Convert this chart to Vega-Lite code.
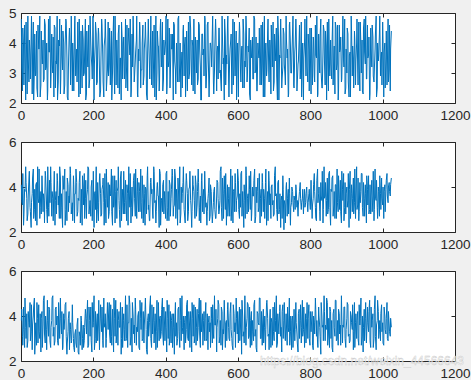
{
"$schema":"https://vega.github.io/schema/vega-lite/v6.json",
"background":"#f0f0f0",
"padding":{"left":7,"top":5,"right":0,"bottom":0},
"spacing":12,
"config":{
 "view":{"fill":"white","stroke":"#262626","strokeWidth":1},
 "axis":{"grid":false,"domain":false,"title":null,"tickColor":"#262626","tickSize":-4,"tickWidth":1,"labelFont":"Liberation Sans","labelFontSize":13.5,"labelColor":"#262626","labelFlush":false,"labelOverlap":false,"labelBound":false,"format":"d"},
 "axisX":{"labelPadding":9},
 "axisY":{"labelPadding":9}
},
"data":{"values":[
{"x":1,"a":4.8,"b":4.1,"c":3.8},{"x":4,"a":2.4,"b":3.2,"c":3.1},{"x":7,"a":3.9,"b":2.3,"c":4.4},{"x":10,"a":4.6,"b":3.9,"c":2.6},{"x":13,"a":2.1,"b":4.9,"c":3.5},{"x":16,"a":3.3,"b":3.5,"c":4.1},{"x":19,"a":4.9,"b":2.8,"c":2.9},{"x":22,"a":2.7,"b":4.4,"c":3.7},{"x":25,"a":3.6,"b":3.1,"c":4.6},{"x":28,"a":4.2,"b":2.2,"c":3.3},
{"x":31,"a":2.3,"b":3.7,"c":2.5},{"x":34,"a":4.7,"b":4.8,"c":4.0},{"x":37,"a":3.1,"b":3.0,"c":4.8},{"x":40,"a":2.9,"b":2.5,"c":3.2},{"x":43,"a":4.4,"b":4.2,"c":2.7},{"x":46,"a":2.2,"b":4.9,"c":3.9},{"x":49,"a":3.8,"b":3.3,"c":4.5},{"x":52,"a":4.9,"b":2.6,"c":3.0},{"x":55,"a":2.6,"b":3.8,"c":2.4},{"x":58,"a":3.5,"b":4.5,"c":4.2},
{"x":61,"a":4.1,"b":2.9,"c":3.6},{"x":64,"a":2.8,"b":3.4,"c":4.9},{"x":67,"a":4.6,"b":4.7,"c":2.8},{"x":70,"a":3.2,"b":3.6,"c":3.4},{"x":73,"a":2.1,"b":2.4,"c":4.7},{"x":76,"a":4.8,"b":3.1,"c":3.1},{"x":79,"a":3.7,"b":4.3,"c":4.3},{"x":82,"a":2.5,"b":4.9,"c":2.6},{"x":85,"a":4.3,"b":2.7,"c":3.8},{"x":88,"a":3.0,"b":3.5,"c":4.9},
{"x":91,"a":2.2,"b":4.0,"c":3.5},{"x":94,"a":4.5,"b":2.3,"c":2.9},{"x":97,"a":3.4,"b":3.8,"c":4.4},{"x":100,"a":4.9,"b":4.6,"c":4.0},{"x":103,"a":2.7,"b":3.2,"c":2.7},{"x":106,"a":3.9,"b":2.6,"c":3.6},{"x":109,"a":2.3,"b":4.4,"c":4.8},{"x":112,"a":4.6,"b":3.7,"c":3.2},{"x":115,"a":3.1,"b":2.2,"c":2.5},{"x":118,"a":4.0,"b":3.9,"c":4.1},
{"x":121,"a":2.6,"b":4.8,"c":3.9},{"x":124,"a":4.8,"b":3.0,"c":4.6},{"x":127,"a":3.5,"b":2.5,"c":2.3},{"x":130,"a":2.1,"b":4.1,"c":3.3},{"x":133,"a":4.2,"b":3.6,"c":4.2},{"x":136,"a":3.7,"b":4.9,"c":3.7},{"x":139,"a":4.9,"b":2.8,"c":2.8},{"x":142,"a":2.4,"b":3.3,"c":4.5},{"x":145,"a":3.3,"b":4.5,"c":3.0},{"x":148,"a":4.5,"b":2.4,"c":2.4},
{"x":151,"a":2.9,"b":3.7,"c":3.4},{"x":154,"a":3.8,"b":4.2,"c":2.6},{"x":157,"a":4.7,"b":2.9,"c":3.9},{"x":160,"a":2.2,"b":3.4,"c":2.3},{"x":163,"a":3.6,"b":4.7,"c":3.1},{"x":166,"a":4.4,"b":3.1,"c":4.0},{"x":169,"a":2.5,"b":2.3,"c":2.5},{"x":172,"a":4.1,"b":4.0,"c":3.6},{"x":175,"a":3.0,"b":4.6,"c":2.9},{"x":178,"a":4.8,"b":3.5,"c":4.3},
{"x":181,"a":2.3,"b":2.6,"c":3.2},{"x":184,"a":3.4,"b":3.9,"c":4.7},{"x":187,"a":4.6,"b":4.8,"c":2.7},{"x":190,"a":2.8,"b":3.2,"c":3.8},{"x":193,"a":4.0,"b":2.7,"c":4.4},{"x":196,"a":3.2,"b":4.3,"c":2.4},{"x":199,"a":4.9,"b":3.6,"c":3.5},{"x":202,"a":2.1,"b":2.2,"c":4.9},{"x":205,"a":3.9,"b":3.8,"c":3.0},{"x":208,"a":4.3,"b":4.9,"c":2.8},
{"x":211,"a":2.7,"b":3.0,"c":4.1},{"x":214,"a":4.5,"b":2.5,"c":3.6},{"x":217,"a":3.1,"b":4.4,"c":2.5},{"x":220,"a":2.4,"b":3.7,"c":4.5},{"x":223,"a":4.8,"b":2.8,"c":3.3},{"x":226,"a":3.6,"b":4.1,"c":2.9},{"x":229,"a":2.2,"b":3.3,"c":4.8},{"x":232,"a":4.2,"b":4.6,"c":3.7},{"x":235,"a":3.8,"b":2.4,"c":2.6},{"x":238,"a":2.9,"b":3.5,"c":4.0},
{"x":241,"a":4.7,"b":4.2,"c":3.4},{"x":244,"a":3.3,"b":2.9,"c":4.6},{"x":247,"a":2.6,"b":3.6,"c":2.8},{"x":250,"a":4.4,"b":4.8,"c":3.1},{"x":253,"a":3.0,"b":2.3,"c":4.3},{"x":256,"a":4.9,"b":3.1,"c":2.4},{"x":259,"a":2.3,"b":4.5,"c":3.9},{"x":262,"a":3.7,"b":3.8,"c":4.7},{"x":265,"a":4.1,"b":2.6,"c":3.2},{"x":268,"a":2.5,"b":4.0,"c":2.7},
{"x":271,"a":4.6,"b":3.4,"c":4.2},{"x":274,"a":3.5,"b":2.2,"c":3.5},{"x":277,"a":2.1,"b":4.7,"c":2.3},{"x":280,"a":4.0,"b":3.9,"c":4.4},{"x":283,"a":3.9,"b":2.8,"c":3.8},{"x":286,"a":2.8,"b":3.3,"c":2.9},{"x":289,"a":4.8,"b":4.3,"c":4.9},{"x":292,"a":3.2,"b":2.5,"c":3.0},{"x":295,"a":2.4,"b":3.7,"c":2.6},{"x":298,"a":4.5,"b":4.9,"c":3.7},
{"x":301,"a":3.6,"b":3.1,"c":4.5},{"x":304,"a":2.2,"b":2.4,"c":3.1},{"x":307,"a":4.3,"b":4.0,"c":2.4},{"x":310,"a":4.9,"b":3.6,"c":4.0},{"x":313,"a":2.7,"b":4.6,"c":3.6},{"x":316,"a":3.4,"b":2.7,"c":4.8},{"x":319,"a":4.1,"b":3.2,"c":2.7},{"x":322,"a":2.3,"b":4.4,"c":3.3},{"x":325,"a":3.8,"b":2.9,"c":4.2},{"x":328,"a":4.7,"b":3.8,"c":2.5},
{"x":331,"a":2.5,"b":4.8,"c":3.9},{"x":334,"a":3.1,"b":2.6,"c":4.6},{"x":337,"a":4.6,"b":3.5,"c":3.0},{"x":340,"a":2.9,"b":4.1,"c":2.8},{"x":343,"a":4.2,"b":2.3,"c":4.3},{"x":346,"a":3.7,"b":3.9,"c":3.4},{"x":349,"a":2.1,"b":4.5,"c":2.3},{"x":352,"a":4.8,"b":3.0,"c":4.1},{"x":355,"a":3.3,"b":2.5,"c":3.7},{"x":358,"a":4.0,"b":4.2,"c":4.9},
{"x":361,"a":2.6,"b":3.7,"c":2.6},{"x":364,"a":4.4,"b":2.8,"c":3.2},{"x":367,"a":3.5,"b":4.9,"c":4.4},{"x":370,"a":2.2,"b":3.3,"c":3.8},{"x":373,"a":4.9,"b":2.4,"c":2.5},{"x":376,"a":3.0,"b":4.0,"c":4.7},{"x":379,"a":3.9,"b":3.6,"c":3.5},{"x":382,"a":2.4,"b":2.2,"c":2.9},{"x":385,"a":4.5,"b":4.6,"c":4.0},{"x":388,"a":3.2,"b":3.4,"c":3.3},
{"x":391,"a":4.7,"b":2.9,"c":4.8},{"x":394,"a":2.8,"b":4.3,"c":2.7},{"x":397,"a":3.6,"b":3.8,"c":3.6},{"x":400,"a":4.1,"b":2.6,"c":4.2},{"x":403,"a":2.3,"b":4.7,"c":2.4},{"x":406,"a":4.8,"b":3.1,"c":3.9},{"x":409,"a":3.4,"b":2.5,"c":4.5},{"x":412,"a":2.5,"b":4.1,"c":3.1},{"x":415,"a":4.3,"b":3.5,"c":2.8},{"x":418,"a":3.8,"b":4.8,"c":4.1},
{"x":421,"a":2.1,"b":2.7,"c":3.5},{"x":424,"a":4.6,"b":3.2,"c":2.3},{"x":427,"a":3.1,"b":4.4,"c":4.6},{"x":430,"a":4.0,"b":3.9,"c":3.7},{"x":433,"a":2.7,"b":2.3,"c":3.0},{"x":436,"a":4.9,"b":3.6,"c":4.4},{"x":439,"a":3.3,"b":4.9,"c":2.6},{"x":442,"a":2.2,"b":2.8,"c":3.8},{"x":445,"a":3.7,"b":3.3,"c":4.9},{"x":448,"a":4.4,"b":4.2,"c":3.2},
{"x":451,"a":2.9,"b":3.0,"c":2.5},{"x":454,"a":4.2,"b":2.4,"c":4.0},{"x":457,"a":3.5,"b":4.6,"c":3.4},{"x":460,"a":2.4,"b":3.7,"c":4.7},{"x":463,"a":4.7,"b":2.9,"c":2.9},{"x":466,"a":3.0,"b":4.0,"c":3.6},{"x":469,"a":4.5,"b":3.4,"c":4.2},{"x":472,"a":2.6,"b":2.2,"c":2.4},{"x":475,"a":3.9,"b":4.5,"c":3.9},{"x":478,"a":4.8,"b":3.8,"c":4.5},
{"x":481,"a":2.3,"b":2.6,"c":3.1},{"x":484,"a":3.6,"b":4.1,"c":2.7},{"x":487,"a":4.1,"b":3.2,"c":4.3},{"x":490,"a":2.8,"b":4.8,"c":3.5},{"x":493,"a":4.6,"b":2.5,"c":4.8},{"x":496,"a":3.2,"b":3.6,"c":2.6},{"x":499,"a":2.1,"b":4.3,"c":3.3},{"x":502,"a":4.3,"b":2.9,"c":4.1},{"x":505,"a":3.8,"b":3.9,"c":3.8},{"x":508,"a":4.9,"b":4.7,"c":2.9},
{"x":511,"a":2.5,"b":3.1,"c":4.6},{"x":514,"a":3.4,"b":2.3,"c":3.0},{"x":517,"a":4.7,"b":3.5,"c":2.5},{"x":520,"a":2.2,"b":4.4,"c":4.0},{"x":523,"a":4.0,"b":2.7,"c":3.7},{"x":526,"a":3.7,"b":3.8,"c":4.4},{"x":529,"a":4.4,"b":2.4,"c":2.8},{"x":532,"a":2.7,"b":3.3,"c":3.2},{"x":535,"a":3.1,"b":4.0,"c":4.9},{"x":538,"a":4.8,"b":2.6,"c":3.6},
{"x":541,"a":2.4,"b":3.6,"c":2.4},{"x":544,"a":3.9,"b":4.2,"c":3.9},{"x":547,"a":4.5,"b":2.8,"c":4.5},{"x":550,"a":3.0,"b":3.4,"c":3.1},{"x":553,"a":2.6,"b":4.9,"c":2.7},{"x":556,"a":4.9,"b":2.5,"c":4.2},{"x":559,"a":3.3,"b":3.7,"c":3.4},{"x":562,"a":2.1,"b":4.5,"c":4.7},{"x":565,"a":4.2,"b":3.0,"c":2.6},{"x":568,"a":3.6,"b":2.3,"c":3.8},
{"x":571,"a":4.6,"b":4.1,"c":4.3},{"x":574,"a":2.8,"b":3.5,"c":3.5},{"x":577,"a":3.5,"b":2.7,"c":2.9},{"x":580,"a":4.1,"b":4.8,"c":4.6},{"x":583,"a":2.3,"b":3.2,"c":3.0},{"x":586,"a":4.8,"b":2.4,"c":2.5},{"x":589,"a":3.2,"b":3.9,"c":4.1},{"x":592,"a":2.9,"b":4.6,"c":3.7},{"x":595,"a":4.4,"b":2.9,"c":4.8},{"x":598,"a":3.7,"b":3.6,"c":3.2},
{"x":601,"a":2.2,"b":4.3,"c":2.8},{"x":604,"a":4.7,"b":2.6,"c":4.4},{"x":607,"a":3.0,"b":3.1,"c":3.6},{"x":610,"a":3.8,"b":4.7,"c":2.3},{"x":613,"a":2.5,"b":3.8,"c":4.0},{"x":616,"a":4.3,"b":2.2,"c":3.3},{"x":619,"a":3.4,"b":3.4,"c":4.9},{"x":622,"a":4.9,"b":4.9,"c":2.7},{"x":625,"a":2.7,"b":2.8,"c":3.9},{"x":628,"a":3.9,"b":3.7,"c":4.5},
{"x":631,"a":4.5,"b":4.5,"c":3.1},{"x":634,"a":2.1,"b":3.0,"c":2.6},{"x":637,"a":3.6,"b":2.5,"c":4.2},{"x":640,"a":4.2,"b":4.0,"c":3.8},{"x":643,"a":2.8,"b":3.6,"c":2.9},{"x":646,"a":4.8,"b":4.8,"c":4.7},{"x":649,"a":3.1,"b":2.7,"c":3.4},{"x":652,"a":2.4,"b":3.3,"c":2.4},{"x":655,"a":4.0,"b":4.4,"c":4.1},{"x":658,"a":3.5,"b":3.1,"c":3.6},
{"x":661,"a":2.6,"b":2.4,"c":4.8},{"x":664,"a":4.6,"b":3.9,"c":3.0},{"x":667,"a":3.3,"b":4.6,"c":2.7},{"x":670,"a":2.2,"b":2.9,"c":4.3},{"x":673,"a":4.9,"b":3.5,"c":3.5},{"x":676,"a":3.7,"b":4.2,"c":2.5},{"x":679,"a":2.9,"b":2.3,"c":4.6},{"x":682,"a":4.4,"b":3.8,"c":3.9},{"x":685,"a":3.0,"b":4.7,"c":3.2},{"x":688,"a":4.1,"b":3.2,"c":4.0},
{"x":691,"a":2.3,"b":2.6,"c":2.6},{"x":694,"a":3.8,"b":4.1,"c":3.7},{"x":697,"a":4.7,"b":3.4,"c":4.4},{"x":700,"a":2.7,"b":2.8,"c":2.9},{"x":703,"a":3.4,"b":4.9,"c":3.3},{"x":706,"a":4.5,"b":3.7,"c":4.9},{"x":709,"a":2.1,"b":2.5,"c":2.8},{"x":712,"a":4.2,"b":4.3,"c":3.6},{"x":715,"a":3.6,"b":3.0,"c":4.2},{"x":718,"a":4.8,"b":2.2,"c":3.1},
{"x":721,"a":2.5,"b":3.6,"c":2.4},{"x":724,"a":3.2,"b":4.5,"c":4.5},{"x":727,"a":4.3,"b":2.1,"c":3.8},{"x":730,"a":2.9,"b":3.2,"c":3.0},{"x":733,"a":4.9,"b":4.0,"c":4.1},{"x":736,"a":3.5,"b":2.7,"c":2.7},{"x":739,"a":2.2,"b":3.9,"c":3.5},{"x":742,"a":4.6,"b":4.4,"c":4.8},{"x":745,"a":3.9,"b":2.3,"c":3.3},{"x":748,"a":3.0,"b":3.3,"c":2.5},
{"x":751,"a":4.4,"b":3.8,"c":4.0},{"x":754,"a":2.6,"b":2.9,"c":3.6},{"x":757,"a":3.7,"b":3.4,"c":2.9},{"x":760,"a":4.8,"b":4.1,"c":4.6},{"x":763,"a":2.4,"b":3.1,"c":3.2},{"x":766,"a":3.3,"b":2.7,"c":2.4},{"x":769,"a":4.1,"b":3.6,"c":4.3},{"x":772,"a":2.8,"b":4.2,"c":3.8},{"x":775,"a":4.7,"b":3.0,"c":2.8},{"x":778,"a":3.6,"b":3.5,"c":4.7},
{"x":781,"a":2.1,"b":2.8,"c":3.4},{"x":784,"a":4.0,"b":3.9,"c":2.6},{"x":787,"a":3.4,"b":3.3,"c":4.1},{"x":790,"a":4.9,"b":4.0,"c":3.9},{"x":793,"a":2.7,"b":2.9,"c":3.0},{"x":796,"a":3.8,"b":3.7,"c":4.5},{"x":799,"a":4.5,"b":3.2,"c":2.7},{"x":802,"a":2.3,"b":4.3,"c":3.3},{"x":805,"a":3.1,"b":2.6,"c":4.2},{"x":808,"a":4.2,"b":3.5,"c":2.5},
{"x":811,"a":2.9,"b":4.6,"c":3.7},{"x":814,"a":4.6,"b":3.1,"c":4.8},{"x":817,"a":3.5,"b":2.5,"c":3.1},{"x":820,"a":2.2,"b":4.8,"c":2.8},{"x":823,"a":4.3,"b":3.7,"c":4.4},{"x":826,"a":3.0,"b":2.9,"c":3.5},{"x":829,"a":4.8,"b":4.2,"c":2.3},{"x":832,"a":2.5,"b":3.4,"c":4.0},{"x":835,"a":3.7,"b":2.4,"c":3.6},{"x":838,"a":4.4,"b":4.9,"c":4.9},
{"x":841,"a":2.6,"b":3.6,"c":2.9},{"x":844,"a":3.9,"b":2.7,"c":3.4},{"x":847,"a":4.7,"b":4.4,"c":4.6},{"x":850,"a":2.4,"b":3.0,"c":3.2},{"x":853,"a":3.2,"b":4.7,"c":2.6},{"x":856,"a":4.1,"b":2.3,"c":4.2},{"x":859,"a":2.8,"b":3.8,"c":3.8},{"x":862,"a":4.9,"b":4.5,"c":2.4},{"x":865,"a":3.6,"b":3.2,"c":4.3},{"x":868,"a":2.3,"b":2.6,"c":3.1},
{"x":871,"a":4.5,"b":4.1,"c":4.7},{"x":874,"a":3.3,"b":4.8,"c":3.0},{"x":877,"a":2.1,"b":2.9,"c":2.7},{"x":880,"a":4.6,"b":3.5,"c":4.1},{"x":883,"a":3.8,"b":4.3,"c":3.6},{"x":886,"a":2.7,"b":2.4,"c":4.9},{"x":889,"a":4.2,"b":3.9,"c":2.8},{"x":892,"a":3.4,"b":4.6,"c":3.5},{"x":895,"a":4.8,"b":3.1,"c":4.4},{"x":898,"a":2.5,"b":2.8,"c":2.6},
{"x":901,"a":3.0,"b":4.0,"c":3.9},{"x":904,"a":4.3,"b":3.4,"c":4.5},{"x":907,"a":2.2,"b":2.2,"c":3.2},{"x":910,"a":3.7,"b":4.7,"c":2.9},{"x":913,"a":4.9,"b":3.7,"c":4.0},{"x":916,"a":2.9,"b":2.9,"c":3.4},{"x":919,"a":3.5,"b":4.4,"c":2.5},{"x":922,"a":4.4,"b":3.3,"c":4.6},{"x":925,"a":2.6,"b":2.6,"c":3.7},{"x":928,"a":4.0,"b":4.9,"c":3.0},
{"x":931,"a":3.1,"b":3.2,"c":4.2},{"x":934,"a":4.7,"b":2.5,"c":2.7},{"x":937,"a":2.4,"b":4.2,"c":3.6},{"x":940,"a":3.9,"b":3.8,"c":4.8},{"x":943,"a":4.1,"b":4.6,"c":3.1},{"x":946,"a":2.3,"b":2.7,"c":2.4},{"x":949,"a":4.8,"b":3.5,"c":4.3},{"x":952,"a":3.3,"b":4.1,"c":3.9},{"x":955,"a":2.8,"b":2.4,"c":2.8},{"x":958,"a":4.6,"b":3.9,"c":4.4},
{"x":961,"a":3.6,"b":4.5,"c":3.3},{"x":964,"a":2.1,"b":3.0,"c":4.7},{"x":967,"a":4.5,"b":2.8,"c":2.6},{"x":970,"a":3.2,"b":4.3,"c":3.5},{"x":973,"a":4.2,"b":3.6,"c":4.1},{"x":976,"a":2.7,"b":2.5,"c":3.0},{"x":979,"a":3.8,"b":4.8,"c":4.9},{"x":982,"a":4.9,"b":3.4,"c":2.5},{"x":985,"a":2.5,"b":3.1,"c":3.8},{"x":988,"a":3.4,"b":4.0,"c":4.2},
{"x":991,"a":4.3,"b":2.7,"c":3.4},{"x":994,"a":2.9,"b":3.7,"c":2.9},{"x":997,"a":3.7,"b":4.4,"c":4.5},{"x":1000,"a":4.7,"b":3.2,"c":3.7},{"x":1003,"a":2.2,"b":2.6,"c":2.7},{"x":1006,"a":4.0,"b":4.1,"c":4.0},{"x":1009,"a":3.5,"b":3.9,"c":3.2},{"x":1012,"a":2.6,"b":4.6,"c":4.6},{"x":1015,"a":4.8,"b":3.3,"c":2.9},{"x":1018,"a":3.1,"b":4.2,"c":3.6},
{"x":1021,"a":2.4,"b":3.6,"c":3.1},{"x":1024,"a":4.4,"b":4.4,"c":3.5},
{"x":2,"a":3.2,"b":3.4,"c":4.3},{"x":5,"a":4.5,"b":4.6,"c":2.7},{"x":8,"a":2.6,"b":2.7,"c":3.4},{"x":11,"a":3.9,"b":3.8,"c":4.8},{"x":14,"a":4.7,"b":4.2,"c":3.0},{"x":17,"a":2.3,"b":2.5,"c":2.6},{"x":20,"a":3.5,"b":3.6,"c":4.2},{"x":23,"a":4.1,"b":4.7,"c":3.5},{"x":26,"a":2.8,"b":2.9,"c":2.9},{"x":29,"a":4.9,"b":3.3,"c":4.5},
{"x":32,"a":3.6,"b":4.4,"c":3.6},{"x":35,"a":2.1,"b":2.6,"c":4.4},{"x":38,"a":4.3,"b":3.9,"c":2.3},{"x":41,"a":3.0,"b":4.1,"c":3.7},{"x":44,"a":2.5,"b":2.3,"c":4.6},{"x":47,"a":4.6,"b":3.5,"c":2.8},{"x":50,"a":3.8,"b":4.8,"c":3.3},{"x":53,"a":2.2,"b":3.1,"c":4.1},{"x":56,"a":4.4,"b":2.8,"c":3.9},{"x":59,"a":3.3,"b":4.0,"c":2.6},
{"x":62,"a":2.7,"b":3.7,"c":4.7},{"x":65,"a":4.8,"b":2.4,"c":3.2},{"x":68,"a":3.1,"b":4.5,"c":4.0},{"x":71,"a":4.0,"b":3.0,"c":2.5},{"x":74,"a":2.4,"b":4.9,"c":3.8},{"x":77,"a":3.7,"b":2.7,"c":4.4},{"x":80,"a":4.9,"b":3.3,"c":2.9},{"x":83,"a":2.9,"b":4.2,"c":3.5},{"x":86,"a":3.4,"b":3.8,"c":4.8},{"x":89,"a":4.2,"b":2.5,"c":3.1},
{"x":92,"a":4.6,"b":4.7,"c":2.7},{"x":95,"a":2.5,"b":3.4,"c":4.3},{"x":98,"a":3.3,"b":2.8,"c":3.6},{"x":101,"a":2.1,"b":4.3,"c":2.9},{"x":104,"a":4.1,"b":3.6,"c":4.6},{"x":107,"a":4.8,"b":4.9,"c":3.0},{"x":110,"a":2.8,"b":2.6,"c":3.9},{"x":113,"a":3.6,"b":3.1,"c":4.2},{"x":116,"a":4.4,"b":4.5,"c":2.6},{"x":119,"a":2.3,"b":3.9,"c":3.4},
{"x":122,"a":3.9,"b":2.3,"c":4.5},{"x":125,"a":4.7,"b":3.8,"c":3.1},{"x":128,"a":2.2,"b":4.4,"c":2.8},{"x":131,"a":3.1,"b":2.9,"c":3.9},{"x":134,"a":4.5,"b":3.3,"c":2.5},{"x":137,"a":2.6,"b":4.6,"c":3.4},{"x":140,"a":3.8,"b":3.0,"c":2.9},{"x":143,"a":4.0,"b":2.5,"c":3.7},{"x":146,"a":2.4,"b":4.1,"c":2.6},{"x":149,"a":4.9,"b":3.7,"c":3.2},
{"x":152,"a":3.0,"b":4.8,"c":2.8},{"x":155,"a":2.7,"b":2.7,"c":3.6},{"x":158,"a":4.2,"b":3.5,"c":2.4},{"x":161,"a":4.8,"b":4.2,"c":3.3},{"x":164,"a":2.3,"b":2.4,"c":2.7},{"x":167,"a":3.5,"b":3.9,"c":3.8},{"x":170,"a":4.6,"b":4.5,"c":3.0},{"x":173,"a":2.9,"b":3.2,"c":2.6},{"x":176,"a":3.7,"b":2.6,"c":3.5},{"x":179,"a":2.1,"b":4.3,"c":4.1},
{"x":182,"a":4.4,"b":3.6,"c":3.9},{"x":185,"a":3.2,"b":4.9,"c":2.6},{"x":188,"a":2.5,"b":2.8,"c":4.4},{"x":191,"a":4.9,"b":3.4,"c":3.1},{"x":194,"a":3.6,"b":4.0,"c":2.9},{"x":197,"a":2.8,"b":2.5,"c":4.6},{"x":200,"a":4.1,"b":4.7,"c":3.7},{"x":203,"a":3.3,"b":3.7,"c":2.5},{"x":206,"a":4.7,"b":3.0,"c":4.2},{"x":209,"a":2.6,"b":2.4,"c":3.6},
{"x":212,"a":3.8,"b":4.2,"c":2.9},{"x":215,"a":4.3,"b":3.3,"c":4.7},{"x":218,"a":2.2,"b":4.6,"c":3.3},{"x":221,"a":3.4,"b":2.7,"c":3.9},{"x":224,"a":4.6,"b":3.9,"c":4.4},{"x":227,"a":2.7,"b":4.4,"c":2.6},{"x":230,"a":3.9,"b":2.3,"c":3.5},{"x":233,"a":4.8,"b":3.5,"c":4.1},{"x":236,"a":2.4,"b":4.8,"c":3.0},{"x":239,"a":3.1,"b":3.1,"c":4.6},
{"x":242,"a":2.9,"b":2.6,"c":4.0},{"x":245,"a":4.5,"b":4.1,"c":3.2},{"x":248,"a":3.6,"b":3.7,"c":4.5},{"x":251,"a":2.1,"b":2.9,"c":2.7},{"x":254,"a":4.0,"b":4.5,"c":3.6},{"x":257,"a":3.3,"b":3.2,"c":4.8},{"x":260,"a":4.9,"b":2.4,"c":3.1},{"x":263,"a":2.6,"b":4.3,"c":2.8},{"x":266,"a":3.7,"b":3.8,"c":4.3},{"x":269,"a":4.3,"b":4.9,"c":3.8},
{"x":272,"a":2.3,"b":3.0,"c":3.5},{"x":275,"a":3.5,"b":4.4,"c":4.6},{"x":278,"a":4.7,"b":2.5,"c":3.0},{"x":281,"a":2.8,"b":3.6,"c":2.6},{"x":284,"a":4.2,"b":4.7,"c":4.1},{"x":287,"a":3.0,"b":2.8,"c":3.4},{"x":290,"a":2.5,"b":3.4,"c":2.9},{"x":293,"a":4.6,"b":4.1,"c":4.5},{"x":296,"a":3.9,"b":2.3,"c":3.7},{"x":299,"a":4.1,"b":3.9,"c":4.9},
{"x":302,"a":4.8,"b":4.6,"c":2.7},{"x":305,"a":2.4,"b":3.1,"c":3.9},{"x":308,"a":3.2,"b":2.7,"c":4.6},{"x":311,"a":4.4,"b":4.3,"c":3.2},{"x":314,"a":2.9,"b":3.5,"c":2.8},{"x":317,"a":3.7,"b":4.8,"c":4.3},{"x":320,"a":4.9,"b":2.6,"c":3.5},{"x":323,"a":2.2,"b":3.8,"c":4.0},{"x":326,"a":3.4,"b":4.2,"c":2.6},{"x":329,"a":4.5,"b":2.9,"c":4.7},
{"x":332,"a":3.1,"b":3.3,"c":3.4},{"x":335,"a":4.0,"b":4.5,"c":2.9},{"x":338,"a":2.6,"b":2.4,"c":4.2},{"x":341,"a":3.8,"b":3.7,"c":3.6},{"x":344,"a":4.7,"b":4.0,"c":4.8},{"x":347,"a":2.3,"b":2.8,"c":2.5},{"x":350,"a":3.6,"b":4.9,"c":3.8},{"x":353,"a":4.2,"b":3.2,"c":3.1},{"x":356,"a":2.8,"b":2.5,"c":4.4},{"x":359,"a":4.9,"b":4.4,"c":3.0},
{"x":362,"a":3.3,"b":3.9,"c":4.5},{"x":365,"a":2.5,"b":2.6,"c":3.7},{"x":368,"a":4.6,"b":4.7,"c":2.8},{"x":371,"a":3.0,"b":3.4,"c":4.1},{"x":374,"a":2.1,"b":2.9,"c":3.3},{"x":377,"a":4.4,"b":4.2,"c":2.6},{"x":380,"a":3.9,"b":3.6,"c":4.6},{"x":383,"a":2.7,"b":4.8,"c":3.9},{"x":386,"a":4.8,"b":2.3,"c":3.0},{"x":389,"a":3.5,"b":3.5,"c":4.3},
{"x":392,"a":2.4,"b":4.1,"c":3.2},{"x":395,"a":4.1,"b":2.8,"c":4.4},{"x":398,"a":3.7,"b":3.3,"c":2.9},{"x":401,"a":4.9,"b":4.6,"c":3.5},{"x":404,"a":2.6,"b":2.5,"c":4.7},{"x":407,"a":3.2,"b":3.8,"c":3.0},{"x":410,"a":4.5,"b":4.3,"c":2.7},{"x":413,"a":2.9,"b":2.7,"c":4.2},{"x":416,"a":3.8,"b":3.9,"c":3.8},{"x":419,"a":4.3,"b":4.5,"c":2.6},
{"x":422,"a":4.7,"b":3.1,"c":4.1},{"x":425,"a":3.4,"b":4.8,"c":3.6},{"x":428,"a":2.3,"b":2.6,"c":3.1},{"x":431,"a":3.6,"b":3.5,"c":2.7},{"x":434,"a":4.8,"b":4.4,"c":4.3},{"x":437,"a":2.7,"b":3.0,"c":3.3},{"x":440,"a":4.0,"b":2.4,"c":4.8},{"x":443,"a":3.1,"b":4.0,"c":2.9},{"x":446,"a":2.5,"b":3.7,"c":3.5},{"x":449,"a":4.6,"b":4.9,"c":4.0},
{"x":452,"a":3.9,"b":2.8,"c":3.7},{"x":455,"a":2.2,"b":3.6,"c":2.8},{"x":458,"a":4.4,"b":4.3,"c":4.5},{"x":461,"a":3.3,"b":2.5,"c":3.0},{"x":464,"a":2.8,"b":3.9,"c":4.2},{"x":467,"a":4.9,"b":4.7,"c":2.6},{"x":470,"a":3.5,"b":3.2,"c":3.9},{"x":473,"a":4.1,"b":2.9,"c":4.6},{"x":476,"a":2.4,"b":4.1,"c":3.1},{"x":479,"a":3.7,"b":3.4,"c":2.8},
{"x":482,"a":4.2,"b":4.5,"c":4.4},{"x":485,"a":3.0,"b":2.7,"c":3.5},{"x":488,"a":2.6,"b":3.8,"c":2.9},{"x":491,"a":4.7,"b":4.2,"c":4.1},{"x":494,"a":3.8,"b":3.1,"c":3.2},{"x":497,"a":2.1,"b":2.4,"c":4.7},{"x":500,"a":4.3,"b":4.6,"c":3.6},{"x":503,"a":3.6,"b":3.5,"c":2.7},{"x":506,"a":2.9,"b":2.8,"c":4.2},{"x":509,"a":4.8,"b":4.0,"c":3.9},
{"x":512,"a":2.5,"b":3.3,"c":2.9},{"x":515,"a":4.6,"b":2.9,"c":4.1},{"x":518,"a":3.4,"b":3.7,"c":3.7},{"x":521,"a":2.7,"b":2.5,"c":3.3},{"x":524,"a":4.0,"b":4.1,"c":2.6},{"x":527,"a":3.2,"b":3.2,"c":3.9},{"x":530,"a":4.9,"b":2.7,"c":4.5},{"x":533,"a":2.3,"b":3.8,"c":3.0},{"x":536,"a":3.9,"b":3.0,"c":3.6},{"x":539,"a":4.4,"b":2.6,"c":4.3},
{"x":542,"a":3.7,"b":4.3,"c":3.5},{"x":545,"a":2.8,"b":3.5,"c":4.7},{"x":548,"a":4.5,"b":2.9,"c":2.8},{"x":551,"a":3.1,"b":4.7,"c":3.8},{"x":554,"a":2.4,"b":3.1,"c":4.4},{"x":557,"a":4.2,"b":4.4,"c":2.5},{"x":560,"a":3.5,"b":2.6,"c":3.2},{"x":563,"a":4.8,"b":3.9,"c":4.0},{"x":566,"a":2.6,"b":4.6,"c":3.7},{"x":569,"a":3.3,"b":3.2,"c":2.9},
{"x":572,"a":4.9,"b":2.7,"c":4.6},{"x":575,"a":2.2,"b":4.0,"c":3.0},{"x":578,"a":3.8,"b":3.6,"c":4.1},{"x":581,"a":4.3,"b":2.5,"c":3.4},{"x":584,"a":3.0,"b":4.5,"c":2.7},{"x":587,"a":2.6,"b":3.8,"c":4.5},{"x":590,"a":4.7,"b":2.9,"c":3.3},{"x":593,"a":3.4,"b":4.2,"c":2.6},{"x":596,"a":2.1,"b":3.4,"c":3.9},{"x":599,"a":4.0,"b":4.8,"c":4.2},
{"x":602,"a":3.6,"b":3.0,"c":3.6},{"x":605,"a":4.4,"b":3.7,"c":2.9},{"x":608,"a":2.7,"b":4.6,"c":4.3},{"x":611,"a":3.9,"b":2.7,"c":4.7},{"x":614,"a":4.8,"b":3.3,"c":3.1},{"x":617,"a":2.5,"b":4.1,"c":2.8},{"x":620,"a":3.2,"b":2.6,"c":4.0},{"x":623,"a":4.6,"b":4.5,"c":3.5},{"x":626,"a":2.9,"b":3.5,"c":4.6},{"x":629,"a":3.7,"b":2.9,"c":3.0},
{"x":632,"a":2.3,"b":3.9,"c":4.4},{"x":635,"a":4.1,"b":4.7,"c":3.8},{"x":638,"a":3.5,"b":2.8,"c":2.7},{"x":641,"a":2.8,"b":3.6,"c":3.3},{"x":644,"a":4.9,"b":4.3,"c":4.5},{"x":647,"a":3.0,"b":2.4,"c":3.1},{"x":650,"a":4.2,"b":4.0,"c":2.6},{"x":653,"a":2.4,"b":3.8,"c":4.2},{"x":656,"a":3.8,"b":2.9,"c":3.7},{"x":659,"a":4.5,"b":4.6,"c":4.8},
{"x":662,"a":3.3,"b":3.5,"c":3.0},{"x":665,"a":2.6,"b":2.7,"c":4.2},{"x":668,"a":4.7,"b":4.2,"c":3.6},{"x":671,"a":3.6,"b":3.9,"c":2.8},{"x":674,"a":2.2,"b":2.6,"c":4.0},{"x":677,"a":4.0,"b":4.8,"c":3.4},{"x":680,"a":3.1,"b":3.1,"c":4.7},{"x":683,"a":4.8,"b":2.5,"c":3.1},{"x":686,"a":2.7,"b":4.3,"c":2.5},{"x":689,"a":3.9,"b":3.7,"c":4.3},
{"x":692,"a":4.6,"b":4.0,"c":3.9},{"x":695,"a":3.2,"b":3.2,"c":2.7},{"x":698,"a":2.4,"b":2.7,"c":3.3},{"x":701,"a":4.3,"b":4.5,"c":4.6},{"x":704,"a":3.7,"b":3.6,"c":3.8},{"x":707,"a":2.9,"b":3.0,"c":2.6},{"x":710,"a":4.9,"b":4.2,"c":4.1},{"x":713,"a":2.1,"b":2.8,"c":3.2},{"x":716,"a":3.5,"b":3.7,"c":4.5},{"x":719,"a":4.2,"b":3.4,"c":3.5},
{"x":722,"a":2.8,"b":2.6,"c":4.2},{"x":725,"a":4.5,"b":3.9,"c":3.0},{"x":728,"a":3.3,"b":3.4,"c":4.6},{"x":731,"a":2.6,"b":2.4,"c":2.9},{"x":734,"a":4.1,"b":4.2,"c":3.6},{"x":737,"a":3.8,"b":3.5,"c":4.4},{"x":740,"a":2.3,"b":2.8,"c":3.3},{"x":743,"a":4.7,"b":3.7,"c":2.7},{"x":746,"a":3.0,"b":3.1,"c":4.0},{"x":749,"a":3.6,"b":4.0,"c":3.8},
{"x":752,"a":4.9,"b":3.3,"c":2.6},{"x":755,"a":2.5,"b":3.6,"c":4.3},{"x":758,"a":3.9,"b":3.0,"c":3.4},{"x":761,"a":4.4,"b":3.9,"c":3.7},{"x":764,"a":2.7,"b":3.4,"c":2.8},{"x":767,"a":3.4,"b":3.2,"c":4.1},{"x":770,"a":4.6,"b":3.8,"c":3.0},{"x":773,"a":3.1,"b":3.5,"c":4.5},{"x":776,"a":2.2,"b":3.3,"c":3.5},{"x":779,"a":4.0,"b":3.9,"c":3.1},
{"x":782,"a":3.5,"b":3.4,"c":4.4},{"x":785,"a":4.8,"b":3.1,"c":3.3},{"x":788,"a":2.9,"b":3.7,"c":2.8},{"x":791,"a":3.2,"b":3.5,"c":4.6},{"x":794,"a":4.3,"b":3.3,"c":3.9},{"x":797,"a":2.4,"b":3.9,"c":3.0},{"x":800,"a":3.7,"b":3.0,"c":4.2},{"x":803,"a":4.5,"b":3.6,"c":3.6},{"x":806,"a":2.6,"b":3.2,"c":2.7},{"x":809,"a":4.1,"b":4.1,"c":4.0},
{"x":812,"a":2.7,"b":3.8,"c":3.2},{"x":815,"a":3.6,"b":2.6,"c":4.3},{"x":818,"a":4.9,"b":4.3,"c":3.8},{"x":821,"a":2.3,"b":3.3,"c":2.6},{"x":824,"a":3.8,"b":4.0,"c":4.0},{"x":827,"a":4.2,"b":2.5,"c":3.1},{"x":830,"a":3.0,"b":3.6,"c":4.6},{"x":833,"a":2.5,"b":4.7,"c":3.5},{"x":836,"a":4.6,"b":3.0,"c":2.9},{"x":839,"a":3.4,"b":3.5,"c":4.2},
{"x":842,"a":4.4,"b":4.2,"c":3.6},{"x":845,"a":2.1,"b":3.4,"c":4.8},{"x":848,"a":3.5,"b":2.8,"c":2.7},{"x":851,"a":4.8,"b":4.6,"c":3.9},{"x":854,"a":2.9,"b":3.1,"c":4.4},{"x":857,"a":3.3,"b":3.9,"c":3.0},{"x":860,"a":4.0,"b":4.4,"c":2.6},{"x":863,"a":2.6,"b":2.7,"c":4.1},{"x":866,"a":3.9,"b":3.8,"c":3.5},{"x":869,"a":4.7,"b":4.1,"c":4.7},
{"x":872,"a":3.1,"b":2.6,"c":2.9},{"x":875,"a":4.6,"b":3.3,"c":3.8},{"x":878,"a":2.4,"b":4.5,"c":4.3},{"x":881,"a":3.7,"b":3.0,"c":3.2},{"x":884,"a":4.2,"b":2.9,"c":2.7},{"x":887,"a":2.8,"b":4.7,"c":4.0},{"x":890,"a":4.9,"b":3.4,"c":3.6},{"x":893,"a":3.2,"b":2.5,"c":4.4},{"x":896,"a":2.3,"b":4.2,"c":3.0},{"x":899,"a":3.8,"b":3.7,"c":3.4},
{"x":902,"a":4.5,"b":3.1,"c":4.6},{"x":905,"a":2.7,"b":4.6,"c":3.1},{"x":908,"a":3.6,"b":3.9,"c":2.8},{"x":911,"a":2.2,"b":2.6,"c":4.2},{"x":914,"a":4.4,"b":4.1,"c":3.7},{"x":917,"a":3.9,"b":3.5,"c":4.5},{"x":920,"a":2.5,"b":2.8,"c":3.3},{"x":923,"a":4.1,"b":4.8,"c":2.6},{"x":926,"a":3.4,"b":3.6,"c":4.1},{"x":929,"a":4.8,"b":3.0,"c":3.8},
{"x":932,"a":2.6,"b":4.4,"c":3.0},{"x":935,"a":3.3,"b":2.9,"c":4.5},{"x":938,"a":4.7,"b":3.3,"c":3.9},{"x":941,"a":3.0,"b":4.6,"c":2.7},{"x":944,"a":2.4,"b":3.1,"c":4.0},{"x":947,"a":4.5,"b":4.2,"c":3.5},{"x":950,"a":3.7,"b":2.7,"c":2.9},{"x":953,"a":4.9,"b":3.7,"c":4.6},{"x":956,"a":2.8,"b":4.5,"c":3.3},{"x":959,"a":3.5,"b":3.2,"c":3.7},
{"x":962,"a":4.2,"b":2.8,"c":4.2},{"x":965,"a":2.3,"b":4.1,"c":2.9},{"x":968,"a":3.8,"b":3.6,"c":4.4},{"x":971,"a":4.6,"b":2.9,"c":3.8},{"x":974,"a":2.9,"b":4.7,"c":2.6},{"x":977,"a":3.1,"b":3.0,"c":4.3},{"x":980,"a":4.3,"b":3.5,"c":3.1},{"x":983,"a":2.2,"b":4.3,"c":3.6},{"x":986,"a":4.0,"b":2.6,"c":4.7},{"x":989,"a":3.6,"b":3.8,"c":3.0},
{"x":992,"a":4.9,"b":4.5,"c":3.8},{"x":995,"a":3.4,"b":3.0,"c":4.1},{"x":998,"a":2.6,"b":3.5,"c":3.3},{"x":1001,"a":4.1,"b":4.0,"c":2.8},{"x":1004,"a":3.7,"b":3.8,"c":4.4},{"x":1007,"a":2.5,"b":2.9,"c":3.4},{"x":1010,"a":4.4,"b":4.3,"c":3.9},{"x":1013,"a":3.2,"b":3.6,"c":3.0},{"x":1016,"a":2.7,"b":4.0,"c":4.2},{"x":1019,"a":4.6,"b":3.8,"c":3.3},
{"x":1022,"a":3.8,"b":4.1,"c":3.9}
]},
"vconcat":[
{"width":434,"height":90,
 "layer":[
  {"mark":{"type":"line","color":"#0072BD","strokeWidth":1},
   "encoding":{
    "x":{"field":"x","type":"quantitative","scale":{"domain":[0,1200],"nice":false},"axis":{"orient":"bottom","values":[0,200,400,600,800,1000,1200]}},
    "y":{"field":"a","type":"quantitative","scale":{"domain":[2,5],"nice":false,"zero":false},"axis":{"orient":"left","values":[2,3,4,5]}}}},
  {"mark":{"type":"line","opacity":0},
   "encoding":{
    "x":{"field":"x","type":"quantitative","axis":{"orient":"top","values":[0,200,400,600,800,1000,1200],"labels":false}},
    "y":{"field":"a","type":"quantitative","axis":{"orient":"right","values":[2,3,4,5],"labels":false}}}}
 ],
 "resolve":{"axis":{"x":"independent","y":"independent"}}},
{"width":434,"height":90,
 "layer":[
  {"mark":{"type":"line","color":"#0072BD","strokeWidth":1},
   "encoding":{
    "x":{"field":"x","type":"quantitative","scale":{"domain":[0,1200],"nice":false},"axis":{"orient":"bottom","values":[0,200,400,600,800,1000,1200]}},
    "y":{"field":"b","type":"quantitative","scale":{"domain":[2,6],"nice":false,"zero":false},"axis":{"orient":"left","values":[2,4,6]}}}},
  {"mark":{"type":"line","opacity":0},
   "encoding":{
    "x":{"field":"x","type":"quantitative","axis":{"orient":"top","values":[0,200,400,600,800,1000,1200],"labels":false}},
    "y":{"field":"b","type":"quantitative","axis":{"orient":"right","values":[2,4,6],"labels":false}}}}
 ],
 "resolve":{"axis":{"x":"independent","y":"independent"}}},
{"width":434,"height":90,
 "layer":[
  {"mark":{"type":"line","color":"#0072BD","strokeWidth":1},
   "encoding":{
    "x":{"field":"x","type":"quantitative","scale":{"domain":[0,1200],"nice":false},"axis":{"orient":"bottom","values":[0,200,400,600,800,1000,1200]}},
    "y":{"field":"c","type":"quantitative","scale":{"domain":[2,6],"nice":false,"zero":false},"axis":{"orient":"left","values":[2,4,6]}}}},
  {"mark":{"type":"line","opacity":0},
   "encoding":{
    "x":{"field":"x","type":"quantitative","axis":{"orient":"top","values":[0,200,400,600,800,1000,1200],"labels":false}},
    "y":{"field":"c","type":"quantitative","axis":{"orient":"right","values":[2,4,6],"labels":false}}}},
  {"data":{"values":[{"label":"https://blog.csdn.net/weixin_44566643"}]},
   "mark":{"type":"text","align":"right","baseline":"middle","font":"Liberation Sans","fontSize":12,"fill":"#ffffff","fillOpacity":0.75,"stroke":"#b8b8b8","strokeWidth":0.4,"strokeOpacity":0.8},
   "encoding":{"text":{"field":"label"},"x":{"datum":1225,"type":"quantitative","axis":null},"y":{"datum":2.0,"type":"quantitative","axis":null}}}
 ],
 "resolve":{"axis":{"x":"independent","y":"independent"}}}
]
}
